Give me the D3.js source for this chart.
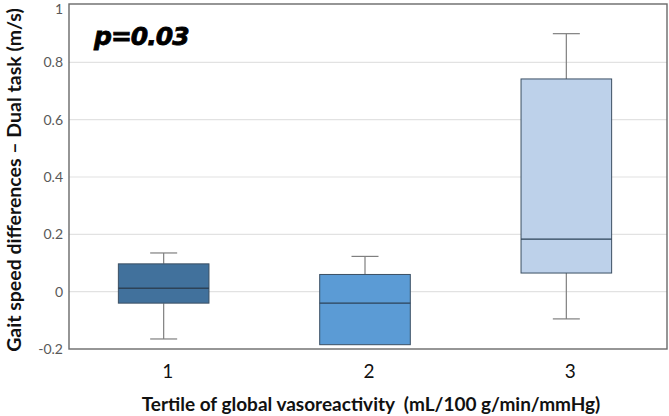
<!DOCTYPE html>
<html>
<head>
<meta charset="utf-8">
<script src="https://cdn.jsdelivr.net/npm/d3@7"></script>
<style>
  body { margin: 0; background: #fff; }
  svg { display: block; }
</style>
</head>
<body>
<div class="chart"></div>
<script>
// tertiles and their box stats
const tertiles = ['1', '2', '3'];
const whiskerLow = [-0.165, -0.185, -0.095];
const q1 = [-0.04, -0.185, 0.065];
const median = [0.012, -0.04, 0.183];
const q3 = [0.097, 0.06, 0.742];
const whiskerHigh = [0.135, 0.123, 0.9];
const boxColors = ['#41719c', '#5b9bd5', '#bdd1ea'];
const yTicks = [-0.2, 0, 0.2, 0.4, 0.6, 0.8, 1];
const yTickLabels = ['-0.2', '0', '0.2', '0.4', '0.6', '0.8', '1'];

const width = 669, height = 416;
const plot = { left: 69, right: 667, top: 5, bottom: 349 };

const svg = d3.select('.chart')
  .append('svg')
  .attr('width', width)
  .attr('height', height);

const x = d3.scaleBand()
  .domain(tertiles)
  .range([63, 667])
  .paddingInner(0.55)
  .paddingOuter(0.275);

const y = d3.scaleLinear()
  .domain([-0.2, 1])
  .range([plot.bottom, plot.top]);

// gridlines
svg.append('g')
  .selectAll('line')
  .data(yTicks.filter(d => d > -0.2 && d < 1))
  .enter().append('line')
  .attr('x1', plot.left)
  .attr('x2', plot.right)
  .attr('y1', d => y(d))
  .attr('y2', d => y(d))
  .attr('stroke', '#e2e2e2')
  .attr('stroke-width', 1.2);

// y tick labels (top one nudged down so it is not clipped)
svg.append('g')
  .selectAll('text')
  .data(yTicks)
  .enter().append('text')
  .attr('x', 63)
  .attr('y', d => Math.max(y(d), 9))
  .attr('dy', '0.35em')
  .attr('text-anchor', 'end')
  .attr('fill', '#595959')
  .style('font-family', 'Lato, "Open Sans", sans-serif')
  .style('font-size', '14px')
  .text((d, i) => yTickLabels[i]);

// x tick labels
svg.append('g')
  .selectAll('text')
  .data(tertiles)
  .enter().append('text')
  .attr('x', d => x(d) + x.bandwidth() / 2 + 4)
  .attr('y', 378)
  .attr('text-anchor', 'middle')
  .attr('fill', '#111')
  .style('font-family', 'Lato, "Open Sans", sans-serif')
  .style('font-size', '19px')
  .text(d => d);

// boxes
const boxes = svg.append('g')
  .selectAll('g')
  .data(tertiles)
  .enter().append('g');

const cx = d => x(d) + x.bandwidth() / 2;
const capHalf = 13.5;

boxes.append('line')
  .attr('x1', cx).attr('x2', cx)
  .attr('y1', (d, i) => y(whiskerHigh[i]))
  .attr('y2', (d, i) => y(q3[i]))
  .attr('stroke', '#7f7f7f').attr('stroke-width', 1.2);
boxes.append('line')
  .attr('x1', cx).attr('x2', cx)
  .attr('y1', (d, i) => y(q1[i]))
  .attr('y2', (d, i) => y(whiskerLow[i]))
  .attr('stroke', '#7f7f7f').attr('stroke-width', 1.2);
boxes.append('line')
  .attr('x1', d => cx(d) - capHalf).attr('x2', d => cx(d) + capHalf)
  .attr('y1', (d, i) => y(whiskerHigh[i]))
  .attr('y2', (d, i) => y(whiskerHigh[i]))
  .attr('stroke', '#7f7f7f').attr('stroke-width', 1.2);
boxes.filter((d, i) => whiskerLow[i] < q1[i])
  .append('line')
  .attr('x1', d => cx(d) - capHalf).attr('x2', d => cx(d) + capHalf)
  .attr('y1', d => y(whiskerLow[tertiles.indexOf(d)]))
  .attr('y2', d => y(whiskerLow[tertiles.indexOf(d)]))
  .attr('stroke', '#7f7f7f').attr('stroke-width', 1.2);

boxes.append('rect')
  .attr('x', d => x(d))
  .attr('width', x.bandwidth())
  .attr('y', (d, i) => y(q3[i]))
  .attr('height', (d, i) => y(q1[i]) - y(q3[i]))
  .attr('fill', (d, i) => boxColors[i])
  .attr('stroke', '#3b4f63')
  .attr('stroke-width', 1);

boxes.append('line')
  .attr('x1', d => x(d))
  .attr('x2', d => x(d) + x.bandwidth())
  .attr('y1', (d, i) => y(median[i]))
  .attr('y2', (d, i) => y(median[i]))
  .attr('stroke', '#2d4257')
  .attr('stroke-width', 1.3);

// frame
svg.append('rect')
  .attr('x', plot.left)
  .attr('y', plot.top - 1)
  .attr('width', plot.right - plot.left)
  .attr('height', plot.bottom - plot.top + 1)
  .attr('fill', 'none')
  .attr('stroke', '#6a6a6a')
  .attr('stroke-width', 1.4);

// p value
svg.append('text')
  .attr('x', 94)
  .attr('y', 45)
  .attr('fill', '#000')
  .attr('stroke', '#000')
  .attr('stroke-width', 0.8)
  .style('font-family', '"DejaVu Sans", sans-serif')
  .style('font-weight', 'bold')
  .style('font-style', 'italic')
  .style('font-size', '25px')
  .style('letter-spacing', '-1px')
  .text('p=0.03');

// axis titles
svg.append('text')
  .attr('x', 371)
  .attr('y', 411)
  .attr('text-anchor', 'middle')
  .attr('fill', '#111')
  .style('font-family', 'Lato, "Open Sans", sans-serif')
  .style('font-weight', 'bold')
  .style('font-size', '19px')
  .style('white-space', 'pre')
  .text('Tertile of global vasoreactivity  (mL/100 g/min/mmHg)');

svg.append('text')
  .attr('transform', 'translate(21,180) rotate(-90)')
  .attr('text-anchor', 'middle')
  .attr('fill', '#111')
  .style('font-family', 'Lato, "Open Sans", sans-serif')
  .style('font-weight', 'bold')
  .style('font-size', '19.5px')
  .text('Gait speed differences \u2013 Dual task (m/s)');
</script>
</body>
</html>
